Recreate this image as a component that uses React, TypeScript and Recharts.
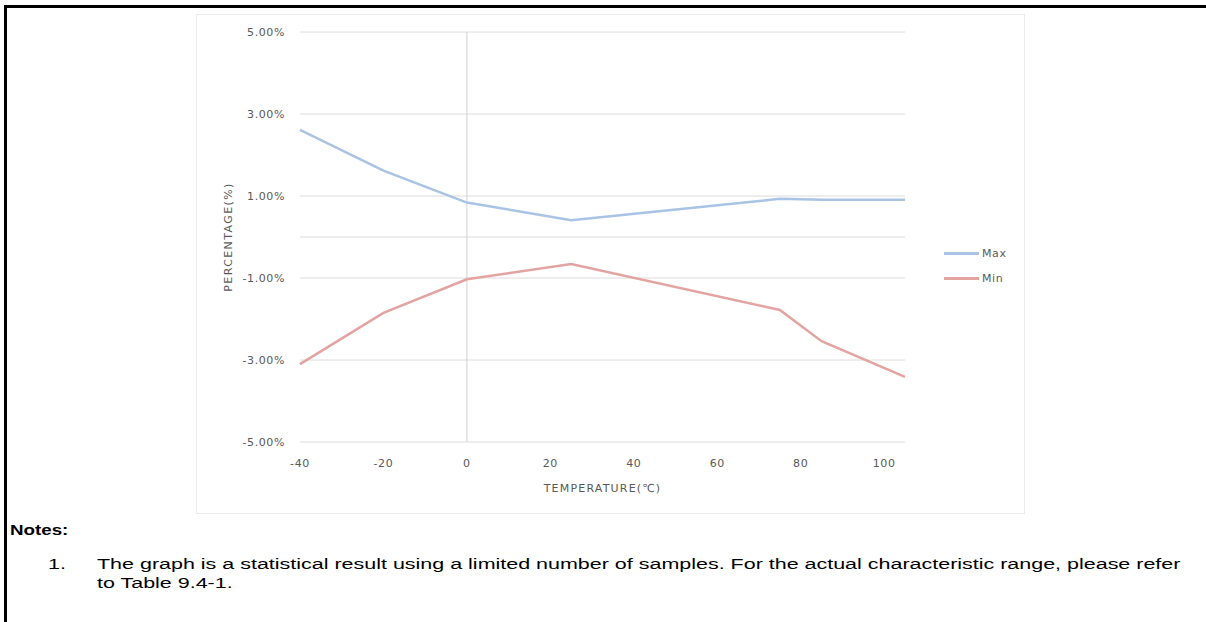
import {
  LineChart,
  Line,
  XAxis,
  YAxis,
  CartesianGrid,
  ReferenceLine,
} from "recharts";

// temperature (°C) and measured deviation (%)
const temps = [-40, -20, 0, 25, 75, 85, 105];
const maxVals = [2.61, 1.62, 0.84, 0.41, 0.93, 0.91, 0.91];
const minVals = [-3.1, -1.85, -1.03, -0.66, -1.78, -2.54, -3.41];

const xTicks = [-40, -20, 0, 20, 40, 60, 80, 100];
const yTicks = [-5, -3, -1, 1, 3, 5];

const seriesNames = ["Max", "Min"];

const data = temps.map((t, i) => ({ t, max: maxVals[i], min: minVals[i] }));

const MAX_COLOR = "#a9c3e5";
const MIN_COLOR = "#e3a3a1";
const TXT = "#595959";
const FONT = "'DejaVu Sans', sans-serif";
const NOTE_FONT = "'Liberation Sans', Arial, sans-serif";

const tickStyle = { fill: TXT, fontSize: 11, fontFamily: FONT, letterSpacing: 0.6 };

export default function App() {
  const colors = [MAX_COLOR, MIN_COLOR];
  return (
    <div
      style={{
        position: "absolute",
        left: 0,
        top: 0,
        width: 1206,
        height: 622,
        background: "#fff",
        overflow: "hidden",
      }}
    >
      {/* document frame */}
      <div style={{ position: "absolute", left: 4, top: 5, width: 1202, height: 3, background: "#000" }} />
      <div style={{ position: "absolute", left: 4, top: 5, width: 3, height: 617, background: "#000" }} />

      {/* chart image frame */}
      <div
        style={{
          position: "absolute",
          left: 196,
          top: 14,
          width: 829,
          height: 500,
          border: "1px solid #ebebeb",
          boxSizing: "border-box",
        }}
      />

      <div style={{ position: "absolute", left: 197, top: 14 }}>
        <LineChart
          width={828}
          height={500}
          data={data}
          margin={{ top: 18, right: 120, bottom: 0, left: 0 }}
        >
          <CartesianGrid stroke="#dcdcdc" vertical={false} horizontalValues={yTicks} />
          <XAxis
            dataKey="t"
            type="number"
            domain={[-40, 105]}
            ticks={xTicks}
            height={72}
            axisLine={false}
            tickLine={false}
            tickSize={0}
            tickMargin={17}
            tick={tickStyle}
            label={{
              value: "TEMPERATURE(℃)",
              position: "insideBottom",
              offset: 22,
              style: { fill: TXT, fontSize: 11, fontFamily: FONT, letterSpacing: 1.2 },
            }}
          />
          <YAxis
            type="number"
            domain={[-5, 5]}
            ticks={yTicks}
            width={103}
            axisLine={false}
            tickLine={false}
            tickSize={0}
            tickMargin={15}
            tickFormatter={(v: number) => `${v.toFixed(2)}%`}
            tick={tickStyle}
            label={{
              value: "PERCENTAGE(%)",
              angle: -90,
              position: "insideLeft",
              offset: 31,
              style: {
                fill: TXT,
                fontSize: 11,
                fontFamily: FONT,
                letterSpacing: 1.4,
                textAnchor: "middle",
              },
            }}
          />
          <ReferenceLine y={0} stroke="#dcdcdc" />
          <ReferenceLine x={0} stroke="#d0d0d0" />
          <Line
            type="linear"
            dataKey="max"
            name="Max"
            stroke={MAX_COLOR}
            strokeWidth={2.5}
            dot={false}
            isAnimationActive={false}
          />
          <Line
            type="linear"
            dataKey="min"
            name="Min"
            stroke={MIN_COLOR}
            strokeWidth={2.5}
            dot={false}
            isAnimationActive={false}
          />
        </LineChart>
      </div>

      {/* legend */}
      <div
        style={{
          position: "absolute",
          left: 944,
          top: 241,
          fontFamily: FONT,
          fontSize: 11,
          color: TXT,
          letterSpacing: 0.6,
        }}
      >
        {seriesNames.map((name, i) => (
          <div key={name} style={{ display: "flex", alignItems: "center", height: 25 }}>
            <span
              style={{
                display: "inline-block",
                width: 35,
                height: 2.5,
                background: colors[i],
                marginRight: 3,
              }}
            />
            {name}
          </div>
        ))}
      </div>

      {/* notes - source page is stretched sideways */}
      <div
        style={{
          position: "absolute",
          left: 10,
          top: 521,
          fontFamily: NOTE_FONT,
          fontWeight: "bold",
          fontSize: 15,
          color: "#000",
          transform: "scaleX(1.25)",
          transformOrigin: "left top",
        }}
      >
        Notes:
      </div>
      <div
        style={{
          position: "absolute",
          left: 48,
          top: 554,
          fontFamily: NOTE_FONT,
          fontSize: 15.5,
          lineHeight: "19px",
          color: "#000",
          transform: "scaleX(1.385)",
          transformOrigin: "left top",
        }}
      >
        1.
      </div>
      <div
        style={{
          position: "absolute",
          left: 97,
          top: 554,
          width: 800,
          whiteSpace: "nowrap",
          fontFamily: NOTE_FONT,
          fontSize: 15.5,
          lineHeight: "19px",
          color: "#000",
          transform: "scaleX(1.385)",
          transformOrigin: "left top",
        }}
      >
        <div>
          The graph is a statistical result using a limited number of samples. For the actual characteristic range, please refer
        </div>
        <div>to Table 9.4-1.</div>
      </div>
    </div>
  );
}
